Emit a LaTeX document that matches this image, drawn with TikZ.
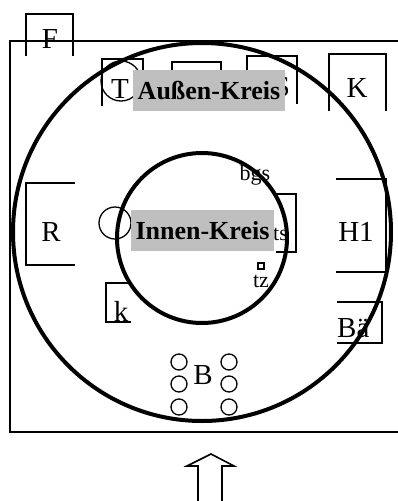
\documentclass[tikz,border=0pt]{standalone}
\usepackage{fontspec}
\setmainfont{Liberation Serif}
\begin{document}
\begin{tikzpicture}[x=1pt,y=-1pt,
  thinline/.style={line width=1.6pt, line cap=rect},
  bigcircle/.style={line width=4pt},
  smallcirc/.style={line width=1.3pt},
  lbl/.style={inner sep=0pt, anchor=base, font=\fontsize{29}{29}\selectfont},
  smalllbl/.style={inner sep=0pt, anchor=base, font=\fontsize{22}{22}\selectfont},
  graylbl/.style={fill=black!25, inner xsep=5pt, minimum height=41pt, font=\bfseries\fontsize{26}{26}\selectfont}]
\clip (0,0) rectangle (398,501);
\fill[white] (0,0) rectangle (398,501);
% outer rectangle (extends past the right edge)
\draw[thinline] (420,41) -- (10,41) -- (10,432) -- (420,432);
% open-bottom boxes
\draw[thinline] (26,55) -- (26,14) -- (73,14) -- (73,55);
\draw[thinline] (102,105) -- (102,59) -- (143,59) -- (143,105);
\draw[thinline] (172,100) -- (172,62) -- (221,62) -- (221,100);
\draw[thinline] (247,103) -- (247,56) -- (297,56) -- (297,103);
\draw[thinline] (329,110) -- (329,54) -- (386,54) -- (386,110);
% open-right boxes
\draw[thinline] (74,183) -- (26,183) -- (26,265) -- (74,265);
\draw[thinline] (128,283) -- (106,283) -- (106,322) -- (130,322);
% open-left boxes
\draw[thinline] (337,179) -- (386,179) -- (386,272) -- (337,272);
\draw[thinline] (338,302) -- (382,302) -- (382,343) -- (338,343);
\draw[thinline] (276,194) -- (296,194) -- (296,252) -- (277,252);
% labels
\node[lbl] (F) at (50,48) {F};
\node[lbl] (T) at (120,98) {T};
\node[lbl] (S) at (282,96) {S};
\node[lbl] (K) at (357,97) {K};
\node[lbl] (R) at (51,241) {R};
\node[lbl] (H1) at (356,241) {H1};
\node[lbl] (k) at (121,321) {k};
\node[lbl, anchor=base west] (Bae) at (337,337) {Bä};
\node[lbl] (B) at (203,384) {B};
\node[smalllbl] (bgs) at (255,180) {bgs};
\node[smalllbl] (tz) at (261,287) {tz};
\node[smalllbl, anchor=base west] (ts) at (273,240) {ts};
\draw[line width=1.2pt] (258,263) rectangle (264,269);
% small circles
\draw[smallcirc] (121,81) circle (20);
\draw[smallcirc] (115,223) circle (16);
\foreach \yy in {362,384,407} {
  \draw[smallcirc] (179,\yy) circle (8);
  \draw[smallcirc] (229,\yy) circle (8);
}
% big circles
\draw[bigcircle] (202,232) circle (189);
\draw[bigcircle] (202,238) circle (85);
% gray labels
\node[graylbl] (aussen) at (209,90.5) {Außen-Kreis};
\node[graylbl] (innen) at (202.5,230.5) {Innen-Kreis};
% block arrow
\draw[line width=1.6pt, line join=miter] (198,520) -- (198,466) -- (187,466) -- (211,454) -- (234,466) -- (222,466) -- (222,520);
\end{tikzpicture}
\end{document}
